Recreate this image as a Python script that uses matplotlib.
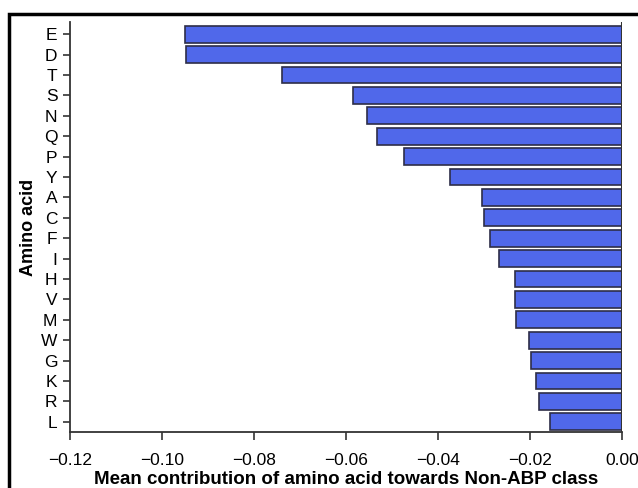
import matplotlib
matplotlib.use("Agg")
import matplotlib.pyplot as plt
from matplotlib.patches import Rectangle

plt.rcParams['font.family'] = ['Liberation Sans', 'DejaVu Sans']

amino_acids = ['E', 'D', 'T', 'S', 'N', 'Q', 'P', 'Y', 'A', 'C',
               'F', 'I', 'H', 'V', 'M', 'W', 'G', 'K', 'R', 'L']
contributions = [-0.0950, -0.0947, -0.0739, -0.0585, -0.0554, -0.0533,
                 -0.0474, -0.0375, -0.0304, -0.0301, -0.0288, -0.0268,
                 -0.0233, -0.0233, -0.0231, -0.0202, -0.0197, -0.0188,
                 -0.0181, -0.0157]
xticks = [-0.12, -0.10, -0.08, -0.06, -0.04, -0.02, 0.00]
xtick_labels = ['\u22120.12', '\u22120.10', '\u22120.08', '\u22120.06',
                '\u22120.04', '\u22120.02', '0.00']

fig = plt.figure(figsize=(6.38, 4.88), dpi=100)
ax = fig.add_axes([0.1097, 0.1148, 0.8653, 0.8402])

ypos = list(range(len(amino_acids)))
ax.barh(ypos, contributions, height=0.83, color='#5068EA',
        edgecolor='#2e2e48', linewidth=1.2)
ax.axvline(0, color='#333333', lw=1.5, zorder=3)

ax.set_xlim(-0.12, 0.0)
ax.set_ylim(19.5, -0.6)
ax.set_yticks(ypos)
ax.set_yticklabels(amino_acids, fontsize=12.5)
ax.set_xticks(xticks)
ax.set_xticklabels(xtick_labels, fontsize=12.5)

for s in ['top', 'right']:
    ax.spines[s].set_visible(False)
for s in ['left', 'bottom']:
    ax.spines[s].set_color('#333333')
    ax.spines[s].set_linewidth(1.3)
ax.tick_params(axis='y', length=5, width=1.2, color='#333333', pad=4)
ax.tick_params(axis='x', length=6, width=1.2, color='#333333', pad=9)

ax.set_xlabel('Mean contribution of amino acid towards Non-ABP class',
              fontsize=13.5, fontweight='bold', labelpad=2)
ax.set_ylabel('Amino acid', fontsize=13, fontweight='bold', labelpad=3)

# outer frame (extends past right and bottom edges)
fig.patches.append(Rectangle((9 / 638, -0.05), 1.0, 1 - 14 / 488 + 0.05,
                             transform=fig.transFigure, fill=False,
                             edgecolor='black', linewidth=2.5))

fig.savefig('out.png', dpi=100)
